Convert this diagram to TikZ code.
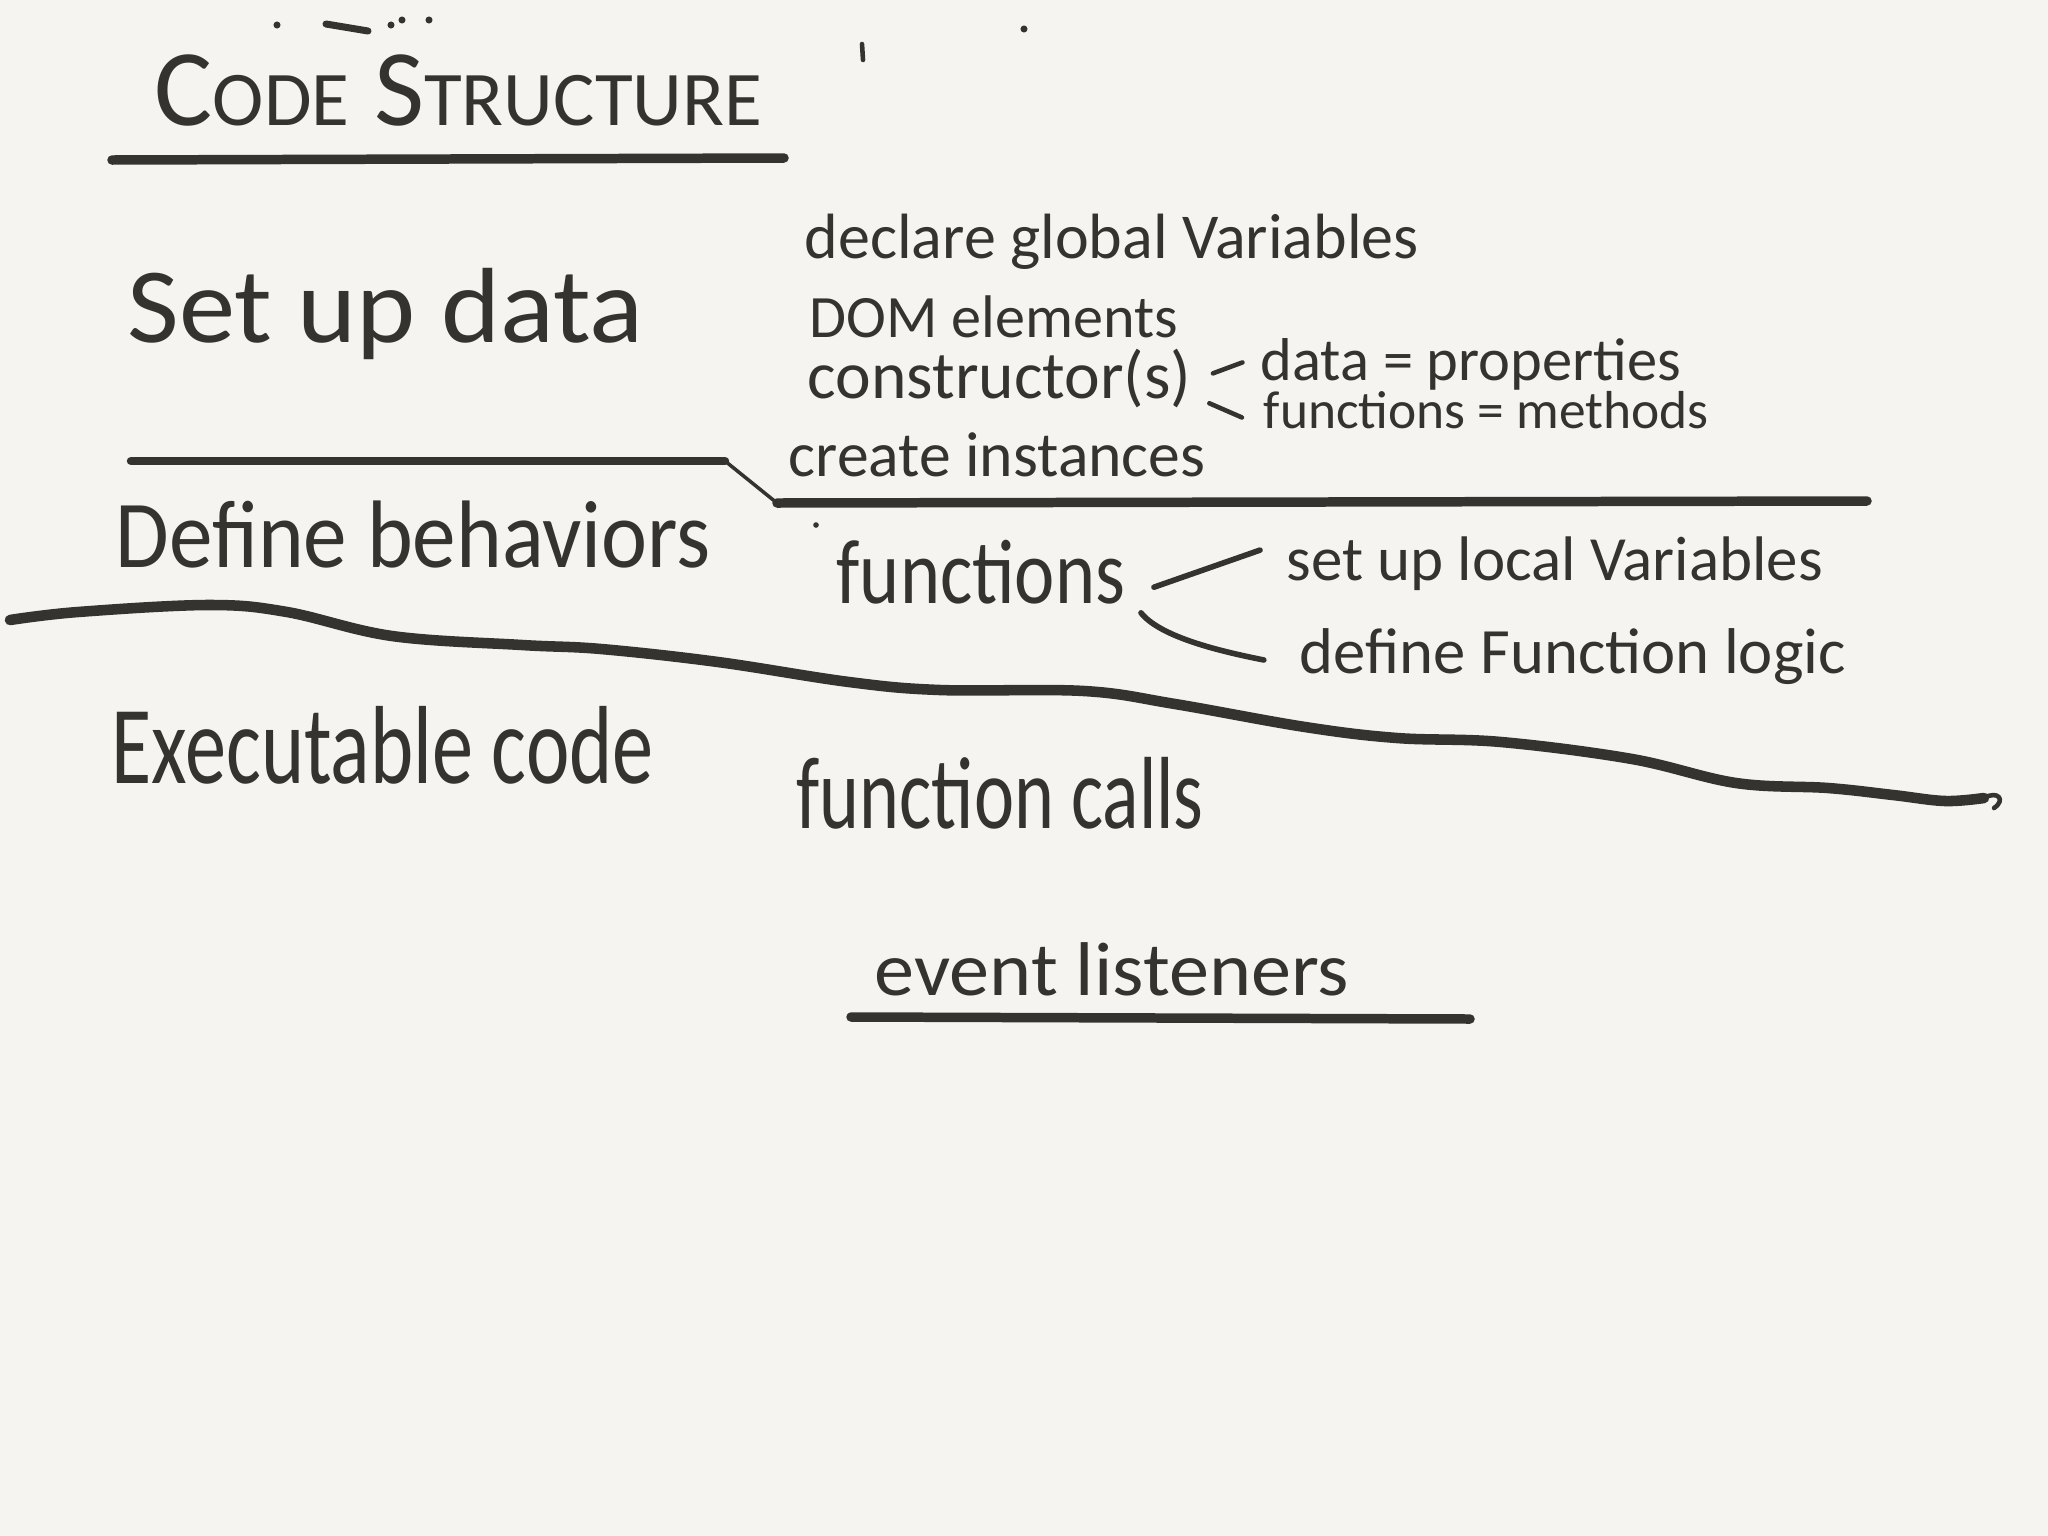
\documentclass[tikz,border=0pt]{standalone}
\usepackage{fontspec}
\usepackage{tikz}
\usepackage{xcolor}
\newfontfamily\handfont{Carlito}
\newcommand{\hf}[1]{\handfont\fontsize{#1}{#1}\selectfont}
\definecolor{paper}{RGB}{245,244,240}
\definecolor{ink}{RGB}{52,51,48}

\begin{document}
\begin{tikzpicture}[x=0.01cm, y=-0.01cm, line cap=round, line join=round,
  hand/.style={text=ink, inner sep=0pt, anchor=base west},
  rule/.style={draw=ink, line width=2.7pt},
  tick/.style={draw=ink, line width=1.3pt}]
  % Paper
  \fill[paper] (0,0) rectangle (2048,1536);
  \useasboundingbox (0,0) rectangle (2048,1536);
  % Stray marks at the top
  \fill[ink] (277,25) circle (1pt);
  \draw[tick, line width=2pt] (326,24) -- (368,31);
  \fill[ink] (391,25) circle (1pt);
  \fill[ink] (402,20) circle (1pt);
  \fill[ink] (429,20) circle (1pt);
  \draw[tick] (862,44) -- (863,60);
  \fill[ink] (1024,29) circle (1pt);
  \fill[ink] (816,525) circle (0.8pt);
  % Title
  \node[hand, font=\hf{31}] (title) at (154,125)
    {C{\hf{22}ODE} S{\hf{22}TRUCTURE}};
  \draw[rule] (112,160) -- (784,158);
  % Set up data
  \node[hand, font=\hf{32}, yscale=0.95] (setup) at (127,342) {Set up data};
  \node[hand, font=\hf{18.2}] (glob) at (804,258) {declare global Variables};
  \node[hand, font=\hf{17.1}] (dom) at (809,337) {DOM elements};
  \node[hand, font=\hf{19.2}] (ctor) at (807,398) {constructor(s)};
  \node[hand, font=\hf{17.2}] (dat) at (1260,380) {data = properties};
  \node[hand, font=\hf{15.2}] (meth) at (1263,428) {functions = methods};
  \node[hand, font=\hf{18.1}] (inst) at (788,476) {create instances};
  \draw[tick] ([shift={(6pt,7pt)}]ctor.base east) -- ([shift={(-5pt,5pt)}]dat.base west);
  \draw[tick] ([shift={(5pt,-1.5pt)}]ctor.base east) -- ([shift={(-6pt,3pt)}]meth.base west);
  % Divider under the data block
  \draw[rule, line width=2.4pt] (131,461) -- (725,461);
  \draw[tick, line width=1pt] (725,461) -- (777,503);
  \draw[rule] (777,503) -- (1867,501);
  % Define behaviors
  \node[hand, font=\hf{24.8}, yscale=1.1] (behav) at (115,567) {Define behaviors};
  \node[hand, font=\hf{21.7}, yscale=1.2] (fn) at (836,603) {functions};
  \node[hand, font=\hf{17.9}] (loc) at (1286,580) {set up local Variables};
  \node[hand, font=\hf{18.4}] (logic) at (1299,673) {define Function logic};
  \draw[tick, line width=1.6pt] ([shift={(8pt,4.5pt)}]fn.base east) -- ([shift={(-7.4pt,8.5pt)}]loc.base west);
  \draw[tick, line width=1.6pt] ([shift={(4.3pt,-2.8pt)}]fn.base east)
    .. controls +(20,25) and +(-40,-8) .. ([shift={(-10pt,3.7pt)}]logic.base west);
  % Wavy divider
  \draw[rule, line width=3pt] plot[smooth, tension=0.6] coordinates {
    (10,620) (78,612) (209,605) (287,612) (392,636) (522,645) (601,649)
    (718,662) (849,682) (940,690) (1084,691) (1175,704) (1305,727)
    (1397,738) (1501,742) (1632,759) (1736,783) (1828,788) (1893,795)
    (1945,801) (1984,798)};
  \draw[tick] (1984,798) .. controls (1998,790) and (2006,800) .. (1994,808);
  % Executable code
  \node[hand, font=\hf{23.4}, yscale=1.35] (exec) at (111,783) {Executable code};
  \node[hand, font=\hf{21.6}, yscale=1.35] (calls) at (796,828) {function calls};
  \node[hand, font=\hf{22.8}, yscale=0.95] (evt) at (874,995) {event listeners};
  \draw[rule] (851,1017) -- (1470,1019);
\end{tikzpicture}
\end{document}
